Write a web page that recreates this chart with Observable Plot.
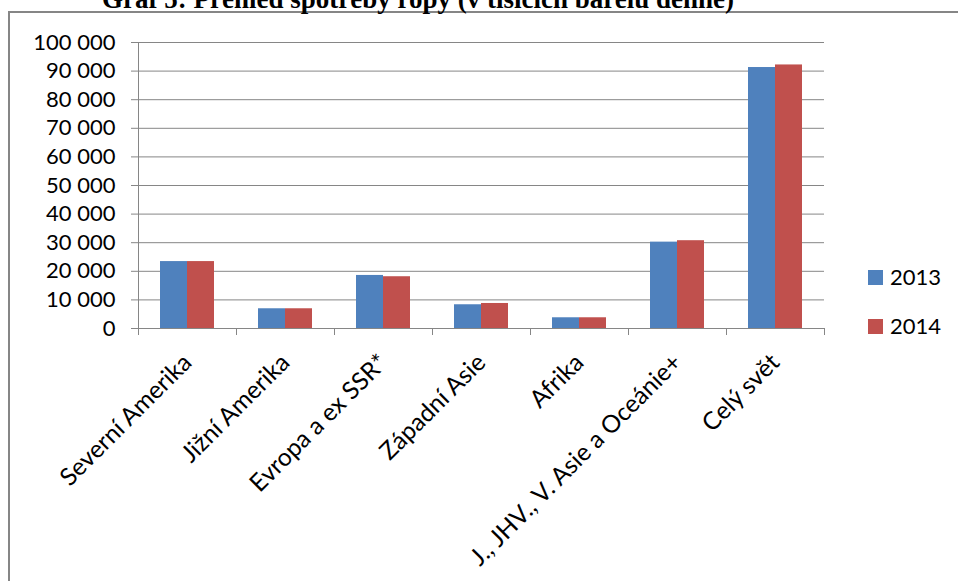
<!DOCTYPE html>
<html>
<head>
<meta charset="utf-8">
<script src="https://cdn.jsdelivr.net/npm/d3@7"></script>
<script src="https://cdn.jsdelivr.net/npm/@observablehq/plot@0.6"></script>
<style>
  html, body { margin: 0; padding: 0; background: #fff; }
  body { position: relative; width: 958px; height: 581px; overflow: hidden; font-family: Lato, "Open Sans", sans-serif; }
  #frame { position: absolute; left: 8px; top: 11px; width: 1200px; height: 800px; border-top: 2px solid #868686; border-left: 2px solid #868686; pointer-events: none; }
  #title { position: absolute; left: 0; width: 836px; top: -14px; text-align: center; font: bold 27px/27px "Liberation Serif", "Times New Roman", serif; color: #000; white-space: nowrap; }
  #chart { position: absolute; left: 0; top: 0; }
  .leg { position: absolute; left: 868px; font: 22px/22px Lato, sans-serif; color: #000; display: flex; align-items: center; }
  .leg span.sw { display: inline-block; width: 15px; height: 15px; margin-right: 7px; }
</style>
</head>
<body>
<div id="chart"></div>
<div id="frame"></div>
<div id="title"></div>
<div id="legend"></div>
<script>
const titleText = "Graf 5: Přehled spotřeby ropy (v tisících barelů denně)";
const categories = ["Severní Amerika", "Jižní Amerika", "Evropa a ex SSR*", "Západní Asie", "Afrika", "J., JHV., V. Asie a Oceánie+", "Celý svět"];
const years = ["2013", "2014"];
const values2013 = [23400, 6900, 18550, 8300, 3750, 30200, 91250];
const values2014 = [23400, 6900, 18100, 8750, 3750, 30700, 92150];
const yTicks = [0, 10000, 20000, 30000, 40000, 50000, 60000, 70000, 80000, 90000, 100000];
const colors = ["#4F81BD", "#C0504D"];

const data = [];
categories.forEach((c, i) => {
  data.push({cat: c, year: years[0], value: values2013[i]});
  data.push({cat: c, year: years[1], value: values2014[i]});
});

const fmt = d3.formatLocale({thousands: "\u00a0", grouping: [3], decimal: ","}).format(",");
const axisColor = "#868686";

const plot = Plot.plot({
  width: 958,
  height: 581,
  marginTop: 42,
  marginBottom: 253,
  marginLeft: 137,
  marginRight: 133,
  style: {fontFamily: "Lato, sans-serif", fontSize: "22px", color: "#000", background: "transparent", overflow: "visible"},
  fx: {domain: categories, padding: 0, label: null, axis: null},
  x: {domain: years, paddingInner: 0, paddingOuter: 0.755, axis: null},
  y: {domain: [0, 100000], ticks: yTicks, label: null, axis: null},
  color: {domain: years, range: colors},
  marks: [
    Plot.gridY(yTicks, {stroke: axisColor, strokeOpacity: 1, strokeWidth: 1}),
    Plot.axisY(yTicks, {tickFormat: fmt, tickSize: 7, tickPadding: 16, stroke: axisColor, fontSize: 22, label: null}),
    Plot.barY(data, {fx: "cat", x: "year", y: "value", fill: "year"}),
    Plot.ruleY([0], {stroke: axisColor, strokeWidth: 1}),
    Plot.axisFx({anchor: "bottom", tickRotate: -45, tickSize: 0, tickPadding: 30, fontSize: 24.5, label: null})
  ]
});
document.getElementById("chart").appendChild(plot);

// category boundary ticks and y-axis line from the library's scales
const fx = plot.scale("fx");
const y = plot.scale("y");
const svg = d3.select(plot);
const y0 = y.apply(0);
const g = svg.append("g").attr("stroke", axisColor).attr("stroke-width", 1);
const bounds = categories.map(c => fx.apply(c)).concat([fx.apply(categories[categories.length - 1]) + fx.bandwidth]);
bounds.forEach(x => {
  g.append("line").attr("x1", x + 0.5).attr("x2", x + 0.5).attr("y1", y0).attr("y2", y0 + 7);
});
g.append("line").attr("x1", bounds[0] + 0.5).attr("x2", bounds[0] + 0.5).attr("y1", y.apply(100000)).attr("y2", y0 + 7);

document.getElementById("title").textContent = titleText;
const legend = document.getElementById("legend");
const legendCenters = [277, 326];
years.forEach((yr, i) => {
  const div = document.createElement("div");
  div.className = "leg";
  div.style.top = (legendCenters[i] - 11) + "px";
  const sw = document.createElement("span");
  sw.className = "sw";
  sw.style.background = colors[i];
  div.appendChild(sw);
  div.appendChild(document.createTextNode(yr));
  legend.appendChild(div);
});
</script>
</body>
</html>
